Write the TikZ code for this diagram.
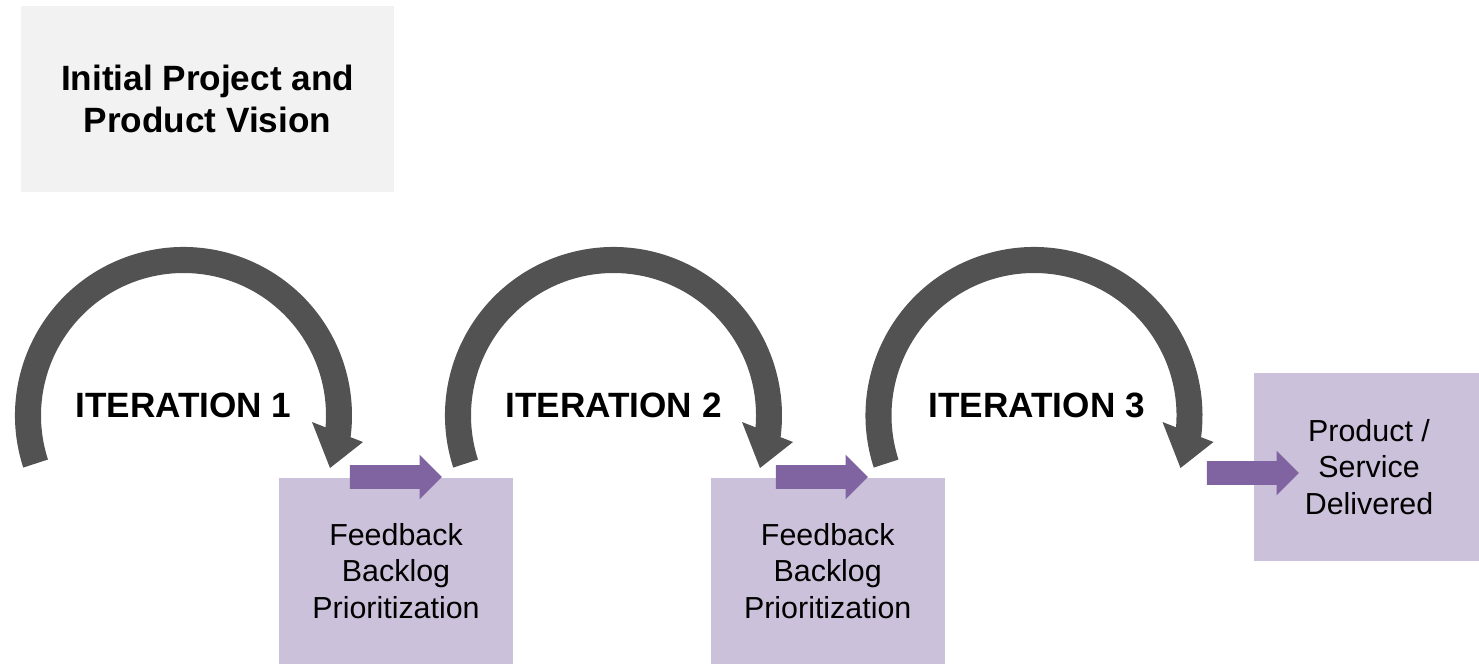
\documentclass[tikz,border=0pt]{standalone}
\usepackage{fontspec}
\setmainfont{Liberation Sans}
\usetikzlibrary{positioning,shapes.arrows}
\definecolor{loopgrey}{RGB}{82,82,82}
\definecolor{pushpurple}{RGB}{128,100,162}
\definecolor{boxlilac}{RGB}{204,193,218}
\definecolor{visiongrey}{RGB}{242,242,242}

\begin{document}
\begin{tikzpicture}[
  x=0.2mm, y=0.2mm,
  node distance=39.4mm,
  vision/.style={fill=visiongrey, minimum width=74.6mm, minimum height=37.2mm, align=center, font=\fontsize{20}{24}\selectfont\bfseries},
  fbbox/.style={fill=boxlilac, minimum width=46.8mm, minimum height=37.2mm, align=center, font=\fontsize{17.3}{20.8}\selectfont},
  itlabel/.style={anchor=base, font=\fontsize{20}{24}\selectfont\bfseries},
  push/.style={single arrow, fill=pushpurple, minimum height=18.4mm, inner xsep=0pt, inner ysep=2.3mm, single arrow head extend=2.1mm, outer sep=0pt}
]
\useasboundingbox (0,0) rectangle (1479,663);

\node[vision] (vision) at (207.5,564) {Initial Project and\\Product Vision};

% the three iteration loops
\foreach \cx/\n/\dx in {183.5/1/0, 613.5/2/0, 1034/3/2.7} {
  \begin{scope}[shift={(\cx,247.5)}]
    \fill[loopgrey] (198:168.5) arc[start angle=198, end angle=-7.4, radius=168.5]
      -- (179.5,-26.5) -- (146.5,-52.5) -- (128.5,-6.5)
      -- (-4.75:142.5) arc[start angle=-4.75, end angle=198, radius=142.5] -- cycle;
    \node[itlabel] (iter\n) at (\dx,-2) {ITERATION \n};
  \end{scope}
}

\node[fbbox] (fb1) at (396,92) {Feedback\\Backlog\\Prioritization};
\node[fbbox, right=of fb1] (fb2) {Feedback\\Backlog\\Prioritization};
\node[fbbox, minimum width=45mm, minimum height=37.6mm] (done) at (1366.5,196) {\hspace*{1mm}Product /\\\hspace*{1mm}Service\\\hspace*{1mm}Delivered};

\node[push] (push1) at (390,186) {};
\node[push] (push2) at (816,186) {};
\node[push] (push3) at (1247,190) {};
\end{tikzpicture}
\end{document}
